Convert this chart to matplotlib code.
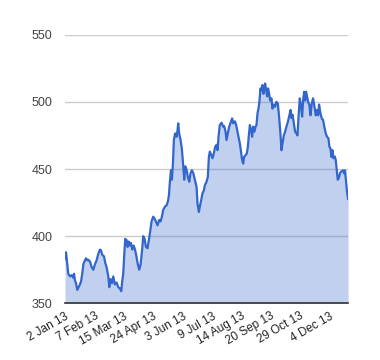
import matplotlib.pyplot as plt

# trading-day number (0 = 2 Jan 13) and closing value
days = [0.0, 0.9, 2.8, 4.3, 5.7, 7.1, 7.7, 8.5, 9.4, 10.5, 12.2, 13.6, 14.7, 15.6, 17.0, 17.9,
        19.0, 19.8, 21.3, 22.7, 24.1, 25.5, 26.9, 28.4, 29.8, 30.6, 31.8, 33.2, 34.3, 35.4,
        36.9, 37.7, 38.8, 40.0, 41.1, 42.5, 43.9, 45.4, 46.8, 47.9, 48.8, 49.6, 50.5, 51.3,
        52.5, 53.3, 54.2, 55.3, 56.1, 57.3, 58.4, 59.3, 60.4, 61.8, 63.2, 64.4, 65.8, 66.6,
        67.8, 68.9, 70.3, 71.4, 72.3, 73.7, 75.1, 76.3, 77.4, 78.8, 80.2, 81.4, 82.5, 83.6,
        85.1, 86.5, 87.6, 88.5, 89.3, 90.2, 91.0, 91.9, 92.7, 93.8, 95.0, 95.8, 96.4, 97.2,
        98.4, 99.5, 100.7, 101.5, 102.4, 103.5, 104.6, 105.8, 106.9, 108.0, 109.2, 110.6,
        112.0, 112.8, 114.0, 114.8, 116.0, 117.1, 118.2, 119.1, 120.5, 121.6, 122.5, 123.3,
        124.5, 125.6, 126.7, 127.9, 129.0, 129.9, 130.7, 131.8, 133.3, 134.7, 135.5, 136.7,
        137.5, 138.6, 139.8, 141.2, 142.3, 143.2, 144.6, 145.5, 146.6, 147.7, 148.9, 150.0,
        150.8, 151.7, 152.5, 154.0, 154.8, 155.7, 156.5, 157.4, 158.5, 159.3, 160.2, 161.3,
        162.2, 163.0, 163.9, 165.0, 165.6, 166.4, 167.3, 168.1, 169.0, 169.8, 170.4, 171.3,
        172.1, 172.9, 173.8, 174.7, 175.8, 176.6, 177.8, 178.9, 180.0, 181.2, 182.0, 183.2,
        184.3, 185.1, 186.3, 187.4, 188.5, 189.7, 190.8, 192.0, 192.8, 193.7, 194.8, 195.9,
        197.1, 197.9, 199.0, 199.9, 201.0, 201.9, 202.7, 203.6, 204.4, 205.3, 206.1, 207.0,
        208.1, 209.0, 210.1, 211.2, 212.4, 213.5, 214.6, 215.5, 216.3, 217.5, 218.6, 219.7,
        220.8, 222.0, 223.1, 224.3, 225.1, 226.0, 226.8, 227.7, 228.5, 229.7, 230.5, 231.4,
        232.2, 233.1, 234.2, 235.3, 236.7, 237.9, 238.4, 239.3, 240.1, 241.0]
prices = [383, 388, 372, 370, 371, 369, 372, 367, 365, 360, 363, 366, 372, 379, 382, 383.5,
          382, 382.5, 381, 377, 375, 379, 382, 387, 390, 389.5, 386, 385, 380, 377,
          370, 362, 368, 365, 370, 364, 365.5, 362, 361, 359, 367, 372, 387, 398,
          397, 392, 396, 393, 395, 390, 393, 391, 387, 380, 375, 379, 391, 400,
          398, 392, 391, 397, 402, 411, 414.5, 413, 411, 408, 412, 411, 414.5, 419.5,
          422, 423, 425.7, 430.6, 440.5, 449, 442, 454, 471.6, 476.5, 474, 479, 484, 476.5,
          471.6, 465, 452, 442, 452, 449.5, 444, 440.5, 447, 449, 447, 442,
          436.8, 424.4, 418, 422, 427, 432, 434, 438, 440.5, 444, 459, 463,
          460.5, 458, 461.6, 466.6, 468, 464, 474, 482.7, 484.5, 481.5, 482, 477.8,
          471.6, 476.5, 481.5, 485, 487.7, 484, 485.5, 483.5, 479, 474, 469, 461.6,
          456.7, 454, 459, 460.6, 461.6, 466.6, 475, 482.7, 479, 474, 481.5, 477.8,
          481.5, 482.7, 491.4, 496.4, 501, 510, 508.5, 512.5, 506, 511, 513.7, 508.5,
          504, 510, 506, 501, 502.6, 495, 498, 496.4, 500, 498.8, 491.4, 479,
          464, 468.8, 475, 477.8, 481.5, 485, 489, 494, 488, 490.5, 484, 477.8,
          476.5, 475, 491.4, 502.6, 496.4, 489, 501, 507.5, 501, 507.5, 503.8, 500,
          497.6, 490, 498.8, 502.6, 496.4, 490, 494, 490, 498, 491.4, 487.7, 486.5,
          481.5, 476.5, 474, 472.8, 466.6, 465.4, 459, 464, 458, 459.3, 456.7, 449,
          442, 443.3, 447, 448.2, 449, 446.6, 449, 440.5, 433, 427.7]

tick_days = [0, 25, 50, 75, 100, 125, 150, 175, 200, 225]
tick_labels = ['2 Jan 13', '7 Feb 13', '15 Mar 13', '24 Apr 13', '3 Jun 13',
               '9 Jul 13', '14 Aug 13', '20 Sep 13', '29 Oct 13', '4 Dec 13']
y_ticks = [350, 400, 450, 500, 550]

plt.rcParams['font.family'] = ['Liberation Sans', 'DejaVu Sans']

fig = plt.figure(figsize=(3.8, 3.6), dpi=100)
ax = fig.add_axes([0.171, 0.1575, 0.745, 0.7461])

ax.fill_between(days, prices, 350, color='#3366cc', alpha=0.3, linewidth=0)
ax.plot(days, prices, color='#3366cc', linewidth=1.6)

ax.set_xlim(0, 241)
ax.set_ylim(350, 550)
ax.set_yticks(y_ticks)
ax.set_yticklabels([str(v) for v in y_ticks])
ax.set_xticks(tick_days)
ax.set_xticklabels(tick_labels, rotation=30, ha='right', va='top', rotation_mode='anchor')

ax.grid(axis='y', color='#cccccc', linewidth=1)
ax.set_axisbelow(True)
for s in ['top', 'right', 'left']:
    ax.spines[s].set_visible(False)
ax.spines['bottom'].set_color('#333333')
ax.spines['bottom'].set_linewidth(1.2)

ax.tick_params(axis='y', length=0, pad=9, labelsize=9, labelcolor='#444444')
ax.tick_params(axis='x', length=0, pad=5, labelsize=8.5, labelcolor='#222222')

fig.savefig('out.png', dpi=100)
